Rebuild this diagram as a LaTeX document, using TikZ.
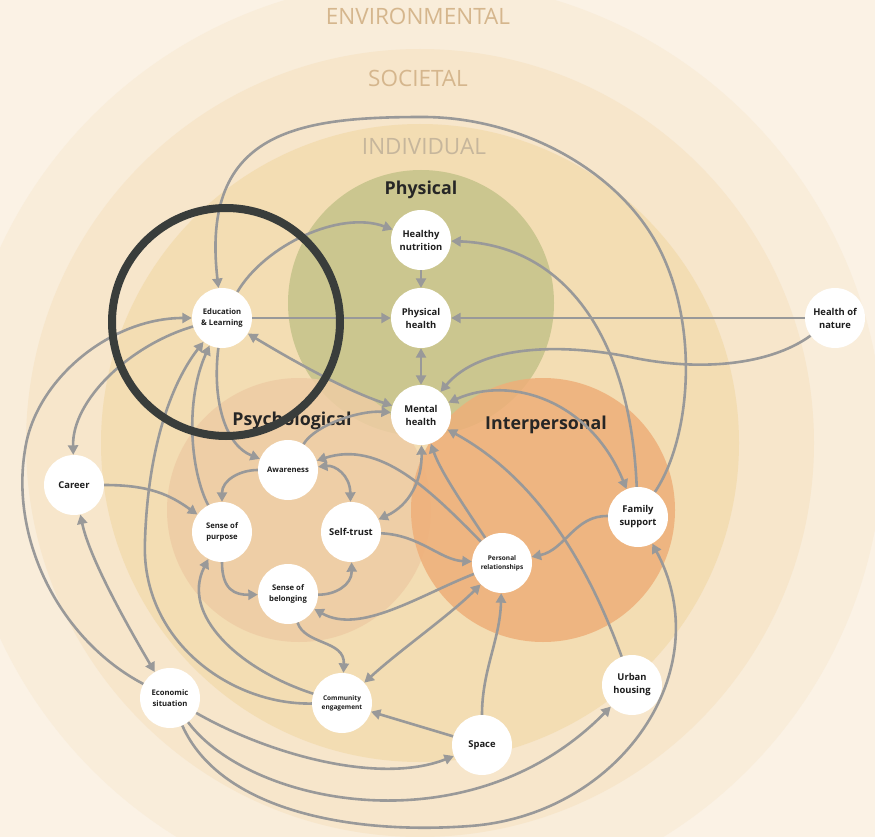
\documentclass[tikz,border=0pt]{standalone}
\usepackage{fontspec}
\setmainfont{Open Sans}
\usetikzlibrary{arrows.meta}

\definecolor{bgpaper}{HTML}{FBF2E5}
\definecolor{envfill}{HTML}{F9EDDA}
\definecolor{socfill}{HTML}{F7E6CB}
\definecolor{indfill}{HTML}{F3DDB3}
\definecolor{physfill}{HTML}{C4C289}
\definecolor{psyfill}{HTML}{EECCA4}
\definecolor{interfill}{HTML}{EEAF79}
\definecolor{edgegray}{HTML}{999999}
\definecolor{ringdark}{HTML}{393D3B}
\definecolor{layertext}{HTML}{D5B68D}
\definecolor{indtext}{HTML}{C6B69C}
\definecolor{titletext}{HTML}{262626}
\definecolor{nodetext}{HTML}{1E1E1E}

\begin{document}
\begin{tikzpicture}[x=1pt,y=-1pt,
  tip/.tip={Triangle[length=9.5pt,width=10pt]},
  link/.style={draw=edgegray, line width=2.6pt, -tip},
  twoway/.style={draw=edgegray, line width=2.6pt, tip-tip},
  factor/.style={circle, fill=white, minimum size=60pt, inner sep=0pt,
    align=center, text=nodetext, font=\bfseries\fontsize{9.4}{13}\selectfont},
  factorsm/.style={factor, font=\bfseries\fontsize{7.7}{10.6}\selectfont},
  factorxs/.style={factor, font=\bfseries\fontsize{6.5}{9}\selectfont},
  zone/.style={font=\bfseries\fontsize{17.8}{20}\selectfont, text=titletext},
  layer/.style={font=\fontsize{22.5}{24}\selectfont, text=layertext},
]
\useasboundingbox (0,0) rectangle (875,837);
\clip (0,0) rectangle (875,837);

% nested layers
\fill[bgpaper] (0,0) rectangle (875,837);
\fill[envfill] (420,443) circle (463pt);
\fill[socfill] (420,443) circle (394pt);
\fill[indfill] (420,443) circle (319pt);

% three domains of the individual
\fill[physfill, fill opacity=0.85] (421,303) circle (133pt);
\fill[psyfill, fill opacity=0.85] (299,510) circle (132pt);
\fill[interfill, fill opacity=0.85] (543,510) circle (132pt);

% layer and domain titles
\node[layer] (envlab) at (418,16) {ENVIRONMENTAL};
\node[layer] (soclab) at (418,78) {SOCIETAL};
\node[layer, text=indtext] (indlab) at (424,147) {INDIVIDUAL};
\node[zone] (physlab) at (421,190) {Physical};
\node[zone] (psylab) at (292,421) {Psychological};
\node[zone] (interlab) at (546,425) {Interpersonal};

% factors
\node[factor]   (nut) at (421,240) {Healthy\\nutrition};
\node[factor]   (phys) at (421,318) {Physical\\health};
\node[factor]   (ment) at (421,415) {Mental\\health};
\node[factorsm] (edu) at (222,318) {Education\\\& Learning};
\node[factor]   (nat) at (835,318) {Health of\\nature};
\node[factor]   (car) at (74,485) {Career};
\node[factorsm] (awa) at (288,470) {Awareness};
\node[factorsm] (pur) at (222,532) {Sense of\\purpose};
\node[factor]   (tru) at (351,532) {Self-trust};
\node[factorsm] (bel) at (288,594) {Sense of\\belonging};
\node[factorxs] (rel) at (502,563) {Personal\\relationships};
\node[factor]   (fam) at (638,517) {Family\\support};
\node[factor]   (urb) at (632,685) {Urban\\housing};
\node[factor]   (spa) at (482,745) {Space};
\node[factorxs] (com) at (342,703) {Community\\engagement};
\node[factorsm] (eco) at (170,698) {Economic\\situation};

% physical domain
\draw[link] (edu) .. controls (265,245) and (340,210) .. (nut);
\draw[link] (edu) -- (phys);
\draw[link] (nut) -- (phys);
\draw[twoway] (phys) -- (ment);
\draw[link] (nat) -- (phys);
\draw[link] (nat) .. controls (770,365) and (700,372) .. (630,357)
                  .. controls (560,343) and (480,345) .. (ment);
\draw[twoway] (edu) .. controls (300,365) and (350,392) .. (ment);

% family support
\draw[link] (fam) .. controls (690,440) and (700,330) .. (660,250)
                  .. controls (620,170) and (520,117) .. (423,117)
                  .. controls (300,117) and (200,130) .. (edu);
\draw[link] (fam) .. controls (630,330) and (560,245) .. (nut);
\draw[twoway] (ment) .. controls (510,375) and (590,400) .. (fam);
\draw[link] (fam) .. controls (575,515) and (565,550) .. (rel);

% economic situation
\draw[link] (eco) .. controls (220,810) and (350,835) .. (470,826)
                  .. controls (620,815) and (720,670) .. (fam);
\draw[link] (eco) .. controls (250,805) and (470,850) .. (urb);
\draw[link] (eco) .. controls (270,755) and (380,785) .. (spa);
\draw[twoway] (car) .. controls (90,560) and (130,630) .. (eco);
\draw[link] (eco) .. controls (60,640) and (10,540) .. (25,450)
                  .. controls (35,380) and (110,318) .. (edu);

% space and housing
\draw[link] (spa) -- (com);
\draw[link] (spa) .. controls (482,670) and (500,640) .. (rel);
\draw[link] (urb) .. controls (590,570) and (540,480) .. (ment);

% interpersonal ties
\draw[link] (rel) .. controls (460,500) and (440,470) .. (ment);
\draw[twoway] (ment) .. controls (422,480) and (410,505) .. (tru);
\draw[link] (rel) .. controls (430,490) and (380,440) .. (awa);
\draw[link] (tru) .. controls (420,535) and (440,560) .. (rel);
\draw[link] (rel) .. controls (420,595) and (360,635) .. (bel);
\draw[twoway] (com) .. controls (400,650) and (450,615) .. (rel);

% psychological domain
\draw[link] (bel) .. controls (305,645) and (345,640) .. (com);
\draw[link] (bel) .. controls (335,595) and (352,585) .. (tru);
\draw[link] (pur) .. controls (222,590) and (235,595) .. (bel);
\draw[twoway] (awa) .. controls (335,465) and (350,475) .. (tru);
\draw[link] (awa) .. controls (240,470) and (222,480) .. (pur);
\draw[link] (awa) .. controls (315,425) and (360,410) .. (ment);

% education and career
\draw[link] (edu) .. controls (212,400) and (225,445) .. (awa);
\draw[link] (car) .. controls (150,485) and (170,495) .. (pur);
\draw[link] (edu) .. controls (130,345) and (72,400) .. (car);
\draw[link] (com) .. controls (230,705) and (140,640) .. (145,540)
                  .. controls (148,450) and (170,385) .. (edu);
\draw[link] (com) .. controls (240,670) and (180,615) .. (pur);
\draw[link] (pur) .. controls (190,470) and (185,400) .. (edu);

% focus ring
\draw[ringdark, line width=8pt] (226,322) circle (114pt);
\end{tikzpicture}
\end{document}
